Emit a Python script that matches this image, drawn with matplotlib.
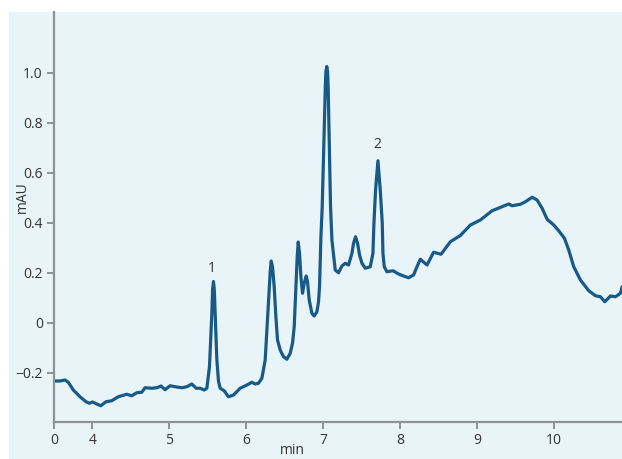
import numpy as np
import matplotlib.pyplot as plt
from matplotlib.patches import Rectangle

plt.rcParams['font.family'] = ['Open Sans', 'DejaVu Sans']

# chromatogram trace (min, mAU)
t_min = [3.500, 3.578, 3.643, 3.686, 3.751, 3.838, 3.916, 3.959, 4.003, 4.055,
         4.107, 4.176, 4.250, 4.336, 4.445, 4.510, 4.575, 4.640, 4.683, 4.770,
         4.836, 4.891, 4.943, 5.008, 5.073, 5.161, 5.226, 5.291, 5.347, 5.399,
         5.451, 5.486, 5.520, 5.533, 5.551, 5.560, 5.572, 5.583, 5.594, 5.616,
         5.637, 5.659, 5.711, 5.767, 5.832, 5.919, 6.006, 6.071, 6.114, 6.157,
         6.201, 6.244, 6.266, 6.287, 6.309, 6.322, 6.339, 6.361, 6.383, 6.404,
         6.439, 6.482, 6.526, 6.569, 6.599, 6.621, 6.643, 6.660, 6.673, 6.690,
         6.708, 6.729, 6.751, 6.777, 6.794, 6.816, 6.851, 6.881, 6.916, 6.937,
         6.950, 6.968, 6.985, 7.007, 7.024, 7.032, 7.044, 7.055, 7.063, 7.076,
         7.093, 7.111, 7.154, 7.197, 7.241, 7.284, 7.327, 7.371, 7.392, 7.418,
         7.444, 7.470, 7.501, 7.544, 7.609, 7.644, 7.657, 7.678, 7.709, 7.739,
         7.765, 7.774, 7.791, 7.826, 7.904, 7.977, 8.042, 8.107, 8.172, 8.216,
         8.259, 8.347, 8.432, 8.529, 8.650, 8.780, 8.910, 9.040, 9.192, 9.322,
         9.408, 9.452, 9.560, 9.625, 9.712, 9.777, 9.842, 9.907, 9.993, 10.058,
         10.132, 10.188, 10.253, 10.340, 10.448, 10.535, 10.600, 10.656, 10.730, 10.795,
         10.860, 10.882]
mau = [-0.232, -0.232, -0.228, -0.237, -0.268, -0.295, -0.315, -0.321, -0.316, -0.324,
       -0.331, -0.315, -0.311, -0.295, -0.285, -0.291, -0.279, -0.277, -0.259, -0.261,
       -0.259, -0.252, -0.267, -0.251, -0.255, -0.259, -0.255, -0.244, -0.261, -0.261,
       -0.268, -0.261, -0.175, -0.088, 0.039, 0.132, 0.166, 0.132, 0.039, -0.148,
       -0.232, -0.261, -0.271, -0.295, -0.288, -0.261, -0.248, -0.237, -0.244, -0.241,
       -0.221, -0.148, -0.028, 0.079, 0.204, 0.248, 0.225, 0.145, 0.025, -0.068,
       -0.108, -0.135, -0.145, -0.121, -0.081, -0.015, 0.145, 0.265, 0.324, 0.279,
       0.185, 0.119, 0.159, 0.188, 0.165, 0.092, 0.039, 0.028, 0.045, 0.085,
       0.145, 0.345, 0.465, 0.732, 0.932, 1.004, 1.026, 1.004, 0.932, 0.732,
       0.465, 0.332, 0.212, 0.201, 0.228, 0.239, 0.232, 0.279, 0.319, 0.345,
       0.319, 0.272, 0.239, 0.219, 0.225, 0.279, 0.400, 0.532, 0.649, 0.532,
       0.400, 0.279, 0.225, 0.205, 0.209, 0.196, 0.188, 0.181, 0.192, 0.225,
       0.255, 0.232, 0.283, 0.275, 0.325, 0.350, 0.392, 0.412, 0.449, 0.465,
       0.476, 0.469, 0.475, 0.485, 0.503, 0.492, 0.459, 0.415, 0.392, 0.369,
       0.339, 0.292, 0.225, 0.172, 0.129, 0.109, 0.105, 0.085, 0.108, 0.105,
       0.119, 0.145]

peak_labels = ['1', '2']
peak_x = [5.555, 7.70]
peak_y = [0.22, 0.716]

xticks = [3.5, 4, 5, 6, 7, 8, 9, 10]
xtick_labels = ['0', '4', '5', '6', '7', '8', '9', '10']
yticks = [-0.2, 0, 0.2, 0.4, 0.6, 0.8, 1.0]
ytick_labels = ['\u22120.2', '0', '0.2', '0.4', '0.6', '0.8', '1.0']

W, H = 622, 459
fig = plt.figure(figsize=(W / 100, H / 100), dpi=100)
fig.patch.set_facecolor('white')

# light panel behind the plot
panel = Rectangle((9 / W, 0), (W - 9) / W, 1 - 12 / H,
                  transform=fig.transFigure, facecolor='#e8f4f8',
                  edgecolor='none', zorder=-5)
fig.patches.append(panel)

ax = fig.add_axes([54 / W, 37 / H, (W - 54) / W, (422 - 12) / H])
ax.set_facecolor('none')
ax.set_zorder(2)

ax.plot(t_min, mau, color='#175a87', lw=2.3, solid_joinstyle='round',
        solid_capstyle='round')

for lab, px, py in zip(peak_labels, peak_x, peak_y):
    ax.text(px, py, lab, ha='center', va='center', fontsize=10, color='#333333')

ax.set_xlim(3.5, 10.88)
ax.set_ylim(-0.396, 1.244)
ax.set_xticks(xticks)
ax.set_xticklabels(xtick_labels)
ax.set_yticks(yticks)
ax.set_yticklabels(ytick_labels)

for s in ['top', 'right']:
    ax.spines[s].set_visible(False)
for s in ['left', 'bottom']:
    ax.spines[s].set_color('#8c9296')
    ax.spines[s].set_linewidth(1.6)
ax.tick_params(length=5, width=1.4, color='#8c9296', labelsize=10,
               labelcolor='#333333', pad=3)

fig.text(22 / W, 1 - 197 / H, 'mAU', rotation=90, ha='center', va='center',
         fontsize=10, color='#333333')
fig.text(292 / W, 1 - 443 / H, 'min', ha='center', va='top',
         fontsize=10, color='#333333')

fig.savefig('out.png', dpi=100, facecolor=fig.get_facecolor())
